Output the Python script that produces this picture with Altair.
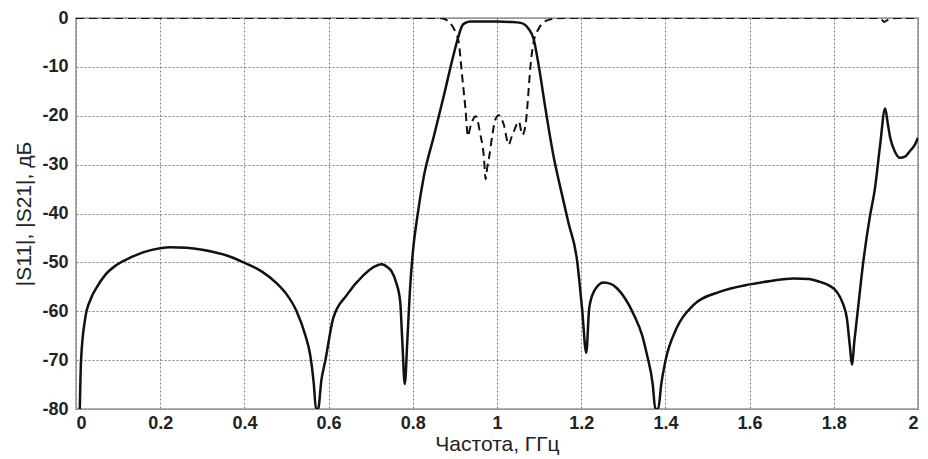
import altair as alt
import pandas as pd

# |S21| (solid)
freq_s21 = [0.009, 0.012, 0.022, 0.035, 0.050, 0.070, 0.097, 0.13, 0.161, 0.20, 0.224, 0.263, 0.30,
            0.358, 0.398, 0.44, 0.477, 0.50, 0.524, 0.545, 0.556, 0.565, 0.570, 0.575, 0.583, 0.592,
            0.611, 0.643, 0.683, 0.71, 0.726, 0.740, 0.750, 0.760, 0.770, 0.775, 0.781, 0.787, 0.793,
            0.80, 0.811, 0.826, 0.850, 0.874, 0.894, 0.909, 0.917, 0.925, 0.937, 1.0, 1.03,
            1.056, 1.075, 1.087, 1.099, 1.115, 1.135, 1.15, 1.17, 1.19, 1.202, 1.212, 1.219, 1.230,
            1.253, 1.27, 1.285, 1.305, 1.325, 1.345, 1.356, 1.370, 1.376, 1.383, 1.390, 1.400, 1.427,
            1.467, 1.530, 1.601, 1.65, 1.704, 1.74, 1.767, 1.790, 1.807, 1.822, 1.831, 1.838, 1.843,
            1.849, 1.855, 1.870, 1.885, 1.898, 1.910, 1.922, 1.928, 1.934, 1.945, 1.957, 1.97, 1.981,
            1.992, 2.0]
s21_db = [-80, -70, -61.4, -57.5, -55.0, -52.5, -50.5, -49.0, -47.9, -47.1, -46.9, -47.0, -47.4,
          -48.6, -50.0, -51.8, -54.3, -56.5, -60.0, -65.0, -68.8, -75, -80, -80, -74, -70.2,
          -61.4, -56.7, -52.6, -50.8, -50.4, -51.0, -51.9, -54, -58.0, -66, -74.9, -66, -56,
          -48, -40.5, -32.5, -24.2, -15.8, -8.5, -3.6, -1.6, -1.0, -0.7, -0.7, -0.8,
          -1.0, -2.2, -4.3, -9.7, -18.5, -28.6, -34.5, -42, -49.5, -59.4, -68.5, -59.4, -56.0,
          -54.1, -54.4, -55.3, -57.5, -60.7, -65, -68.8, -75, -80, -80, -75, -70.2, -63.4,
          -58.7, -56, -54.5, -53.8, -53.3, -53.4, -54, -54.8, -56, -58.5, -61.4, -67, -70.9,
          -66, -61.4, -49.9, -41, -34.7, -26, -18.5, -21.5, -24.5, -27.3, -28.6, -28.3, -27.2,
          -26, -24.5]

# |S11| (dashed)
freq_s11 = [0.0, 0.86, 0.875, 0.89, 0.902, 0.909, 0.917, 0.925, 0.931, 0.936, 0.941, 0.949, 0.954,
            0.959, 0.969, 0.973, 0.977, 0.981, 0.989, 0.996, 1.004, 1.010, 1.016, 1.028, 1.034,
            1.040, 1.052, 1.060, 1.068, 1.073, 1.079, 1.087, 1.099, 1.119, 1.14, 1.16, 1.90,
            1.912, 1.920, 1.926, 1.935, 1.95, 2.0]
s11_db = [0, 0, -0.2, -1.2, -3.0, -4.9, -11.7, -18.5, -24.2, -22.5, -21.2, -20.1, -21,
          -23.2, -28.6, -33, -30.5, -28.6, -23.9, -20.8, -19.9, -20.5, -21.8, -25.9, -24.5,
          -23.2, -21.2, -23.9, -21.8, -17.1, -10.3, -4.9, -2.2, -0.5, -0.1, 0, 0,
          -0.2, -0.8, -0.5, -0.1, 0, 0]

x_ticks = [0, 0.2, 0.4, 0.6, 0.8, 1.0, 1.2, 1.4, 1.6, 1.8, 2.0]
y_ticks = [-80, -70, -60, -50, -40, -30, -20, -10, 0]

df21 = pd.DataFrame({"f": freq_s21, "db": s21_db})
df11 = pd.DataFrame({"f": freq_s11, "db": s11_db})

plain = "'' + datum.value"

x_enc = alt.X("f:Q", scale=alt.Scale(domain=[0, 2], nice=False),
              axis=alt.Axis(values=x_ticks, labelExpr=plain, title="Частота, ГГц"))
y_enc = alt.Y("db:Q", scale=alt.Scale(domain=[-80, 0], nice=False),
              axis=alt.Axis(values=y_ticks, labelExpr=plain, title="|S11|, |S21|, дБ"))

s21 = alt.Chart(df21).mark_line(color="#111111", strokeWidth=2.5, clip=True,
                                interpolate="monotone").encode(x=x_enc, y=y_enc, order="f:Q")
s11 = alt.Chart(df11).mark_line(color="#111111", strokeWidth=2, strokeDash=[8, 5], clip=True,
                                interpolate="monotone").encode(x=x_enc, y=y_enc, order="f:Q")

chart = alt.layer(s21, s11).properties(
    width=842, height=391,
    autosize=alt.AutoSizeParams(type="none"),
    padding={"left": 68, "top": 10, "right": 2, "bottom": 48},
).configure_view(
    stroke="#b0b0b0", strokeWidth=2
).configure_axis(
    domain=False, ticks=False,
    grid=True, gridColor="#808080", gridDash=[2, 2], gridWidth=1,
    labelFont="Liberation Sans", labelFontSize=18, labelFontWeight="bold", labelColor="#222222",
    titleFont="Liberation Sans", titleFontSize=21, titleFontWeight="normal", titleColor="#222222",
).configure_axisX(
    labelPadding=5, titlePadding=1
).configure_axisY(
    labelPadding=8, titlePadding=7
)

chart.save("out.html", embed_options={"renderer": "svg", "actions": False})
